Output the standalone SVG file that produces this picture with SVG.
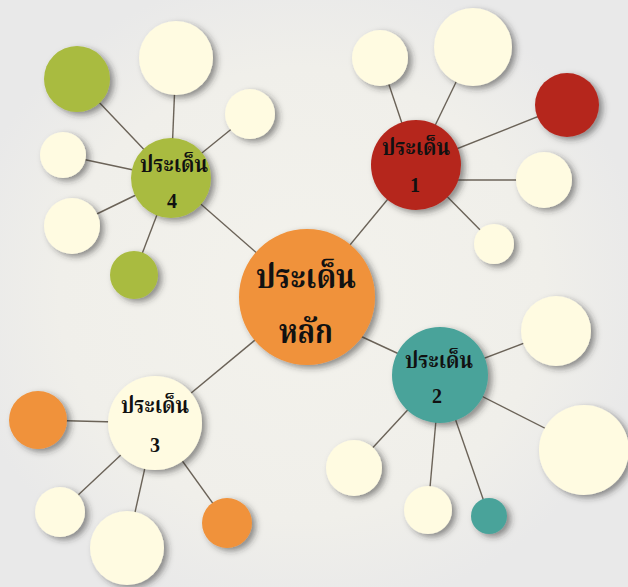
<svg xmlns="http://www.w3.org/2000/svg" width="628" height="587" viewBox="0 0 628 587">
<defs>
<radialGradient id="bg" cx="0.48" cy="0.5" r="0.55">
<stop offset="0" stop-color="#f3f2ec"/>
<stop offset="0.7" stop-color="#f0efea"/>
<stop offset="1" stop-color="#e9e9e9"/>
</radialGradient>
<filter id="sh" x="-30%" y="-30%" width="170%" height="170%">
<feDropShadow dx="4" dy="3" stdDeviation="3" flood-color="#2a2a2a" flood-opacity="0.5"/>
</filter>
</defs>
<style>
.c circle{filter:url(#sh);}
.cream{fill:#fffbe1;}
.orange{fill:#f0923a;}
.red{fill:#b5281f;}
.teal{fill:#4aa39a;}
.green{fill:#a9bb3f;}
.ln line{stroke:#6b6358;stroke-width:1.4;}
text{font-family:"Liberation Serif","Noto Serif Thai","Noto Sans Thai",serif;font-weight:bold;fill:#111;text-anchor:middle;}
.lab{font-size:23px;}
.num{font-size:20px;}
.big{font-size:34px;}
</style>
<rect width="628" height="587" fill="url(#bg)"/>
<g id="connectors" class="ln">
<line x1="171" y1="178" x2="307" y2="297"/>
<line x1="416" y1="165" x2="307" y2="297"/>
<line x1="330" y1="322" x2="440" y2="373"/>
<line x1="155" y1="423" x2="307" y2="297"/>
<line x1="77" y1="79" x2="171" y2="178"/>
<line x1="176" y1="58" x2="171" y2="178"/>
<line x1="250" y1="114" x2="171" y2="178"/>
<line x1="63" y1="155" x2="171" y2="178"/>
<line x1="72" y1="226" x2="171" y2="178"/>
<line x1="134" y1="275" x2="171" y2="178"/>
<line x1="380" y1="58" x2="416" y2="165"/>
<line x1="473" y1="47" x2="416" y2="165"/>
<line x1="567" y1="105" x2="416" y2="165"/>
<line x1="544" y1="180" x2="420" y2="180"/>
<line x1="494" y1="244" x2="416" y2="165"/>
<line x1="556" y1="331" x2="440" y2="375"/>
<line x1="584" y1="448" x2="440" y2="375"/>
<line x1="354" y1="468" x2="440" y2="375"/>
<line x1="428" y1="510" x2="440" y2="375"/>
<line x1="489" y1="516" x2="440" y2="375"/>
<line x1="38" y1="420" x2="155" y2="423"/>
<line x1="60" y1="512" x2="155" y2="423"/>
<line x1="127" y1="548" x2="155" y2="423"/>
<line x1="227" y1="523" x2="155" y2="423"/>
</g>
<g id="sat4" class="c">
<circle class="green" cx="77" cy="79" r="33"/>
<circle class="cream" cx="176" cy="58" r="37"/>
<circle class="cream" cx="250" cy="114" r="25"/>
<circle class="cream" cx="63" cy="155" r="23"/>
<circle class="cream" cx="72" cy="226" r="28"/>
<circle class="green" cx="134" cy="275" r="24"/>
</g>
<g id="sat1" class="c">
<circle class="cream" cx="380" cy="58" r="28"/>
<circle class="cream" cx="473" cy="47" r="39"/>
<circle class="red" cx="567" cy="105" r="32"/>
<circle class="cream" cx="544" cy="180" r="28"/>
<circle class="cream" cx="494" cy="244" r="20"/>
</g>
<g id="sat2" class="c">
<circle class="cream" cx="556" cy="331" r="35"/>
<circle class="cream" cx="584" cy="450" r="45"/>
<circle class="cream" cx="354" cy="468" r="28"/>
<circle class="cream" cx="428" cy="510" r="24"/>
<circle class="teal" cx="489" cy="516" r="18"/>
</g>
<g id="sat3" class="c">
<circle class="orange" cx="38" cy="420" r="29"/>
<circle class="cream" cx="60" cy="512" r="25"/>
<circle class="cream" cx="127" cy="548" r="37"/>
<circle class="orange" cx="227" cy="523" r="25"/>
</g>
<g id="main" class="c">
<circle class="orange" cx="307" cy="297" r="68"/>
<text class="big" x="306" y="288" textLength="100" lengthAdjust="spacingAndGlyphs">ประเด็น</text>
<text class="big" x="306" y="343" textLength="54" lengthAdjust="spacingAndGlyphs">หลัก</text>
</g>
<g id="issue1" class="c">
<circle class="red" cx="416" cy="165" r="45"/>
<text class="lab" x="416" y="155" textLength="68" lengthAdjust="spacingAndGlyphs">ประเด็น</text>
<text class="num" x="415" y="192">1</text>
</g>
<g id="issue2" class="c">
<circle class="teal" cx="440" cy="375" r="48"/>
<text class="lab" x="439" y="368" textLength="68" lengthAdjust="spacingAndGlyphs">ประเด็น</text>
<text class="num" x="437" y="403">2</text>
</g>
<g id="issue3" class="c">
<circle class="cream" cx="155" cy="423" r="47"/>
<text class="lab" x="155" y="413" textLength="68" lengthAdjust="spacingAndGlyphs">ประเด็น</text>
<text class="num" x="155" y="452">3</text>
</g>
<g id="issue4" class="c">
<circle class="green" cx="171" cy="178" r="40"/>
<text class="lab" x="174" y="172" textLength="68" lengthAdjust="spacingAndGlyphs">ประเด็น</text>
<text class="num" x="172" y="208">4</text>
</g>
</svg>
